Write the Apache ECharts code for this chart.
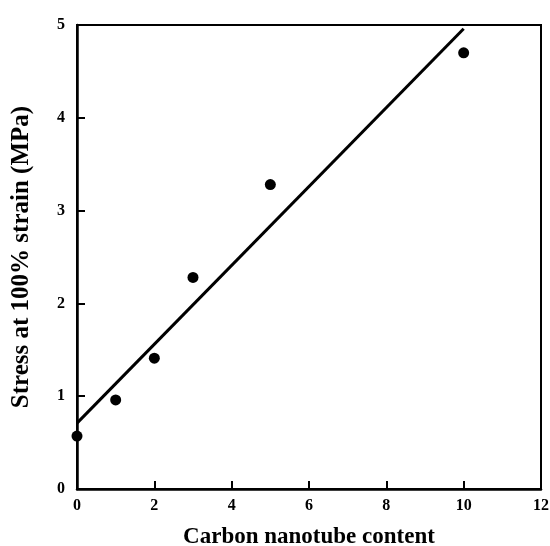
<!DOCTYPE html>
<html>
<head>
<meta charset="utf-8">
<script src="https://cdn.jsdelivr.net/npm/echarts@6/dist/echarts.min.js"></script>
<style>html,body{margin:0;padding:0;background:#fff}#c{width:550px;height:546px}</style>
</head>
<body>
<div id="c"></div>
<script>
const contentX = [0, 1, 2, 3, 5, 10];
const stressY = [0.57, 0.96, 1.41, 2.28, 3.28, 4.70];
const fitX = [0, 10];
const fitY = [0.71, 4.96];
const xTicks = [0, 2, 4, 6, 8, 10, 12];
const yTicks = [0, 1, 2, 3, 4, 5];

const font = 'Liberation Serif';
const chart = echarts.init(document.getElementById('c'));
chart.setOption({
  animation: false,
  backgroundColor: '#fff',
  grid: { left: 77, right: 9, top: 25, bottom: 57, show: true, borderColor: '#000', borderWidth: 2,
          backgroundColor: 'transparent', containLabel: false, outerBoundsMode: 'none' },
  xAxis: {
    type: 'value', min: xTicks[0], max: xTicks[xTicks.length - 1], interval: 2,
    name: 'Carbon nanotube content', nameLocation: 'middle', nameGap: 37,
    nameTextStyle: { fontFamily: font, fontWeight: 'bold', fontSize: 23, color: '#000' },
    axisLine: { show: true, lineStyle: { color: '#000', width: 2.5 } },
    axisTick: { show: true, inside: true, length: 8, lineStyle: { color: '#000', width: 2 } },
    axisLabel: { fontFamily: font, fontWeight: 'bold', fontSize: 16, color: '#000', margin: 9 },
    splitLine: { show: false }
  },
  yAxis: {
    type: 'value', min: yTicks[0], max: yTicks[yTicks.length - 1], interval: 1,
    name: 'Stress at 100% strain (MPa)', nameLocation: 'middle', nameGap: 43, nameRotate: 90,
    nameTextStyle: { fontFamily: font, fontWeight: 'bold', fontSize: 25, color: '#000' },
    axisLine: { show: true, lineStyle: { color: '#000', width: 2.5 } },
    axisTick: { show: true, inside: true, length: 8, lineStyle: { color: '#000', width: 2 } },
    axisLabel: { fontFamily: font, fontWeight: 'bold', fontSize: 16, color: '#000', margin: 12 },
    splitLine: { show: false }
  },
  series: [
    {
      type: 'line', data: fitX.map((x, i) => [x, fitY[i]]), showSymbol: false, symbol: 'none',
      lineStyle: { color: '#000', width: 3 }, z: 2
    },
    {
      type: 'scatter', data: contentX.map((x, i) => [x, stressY[i]]), symbol: 'circle', symbolSize: 11,
      itemStyle: { color: '#000', opacity: 1 }, z: 3
    }
  ]
});
</script>
</body>
</html>
